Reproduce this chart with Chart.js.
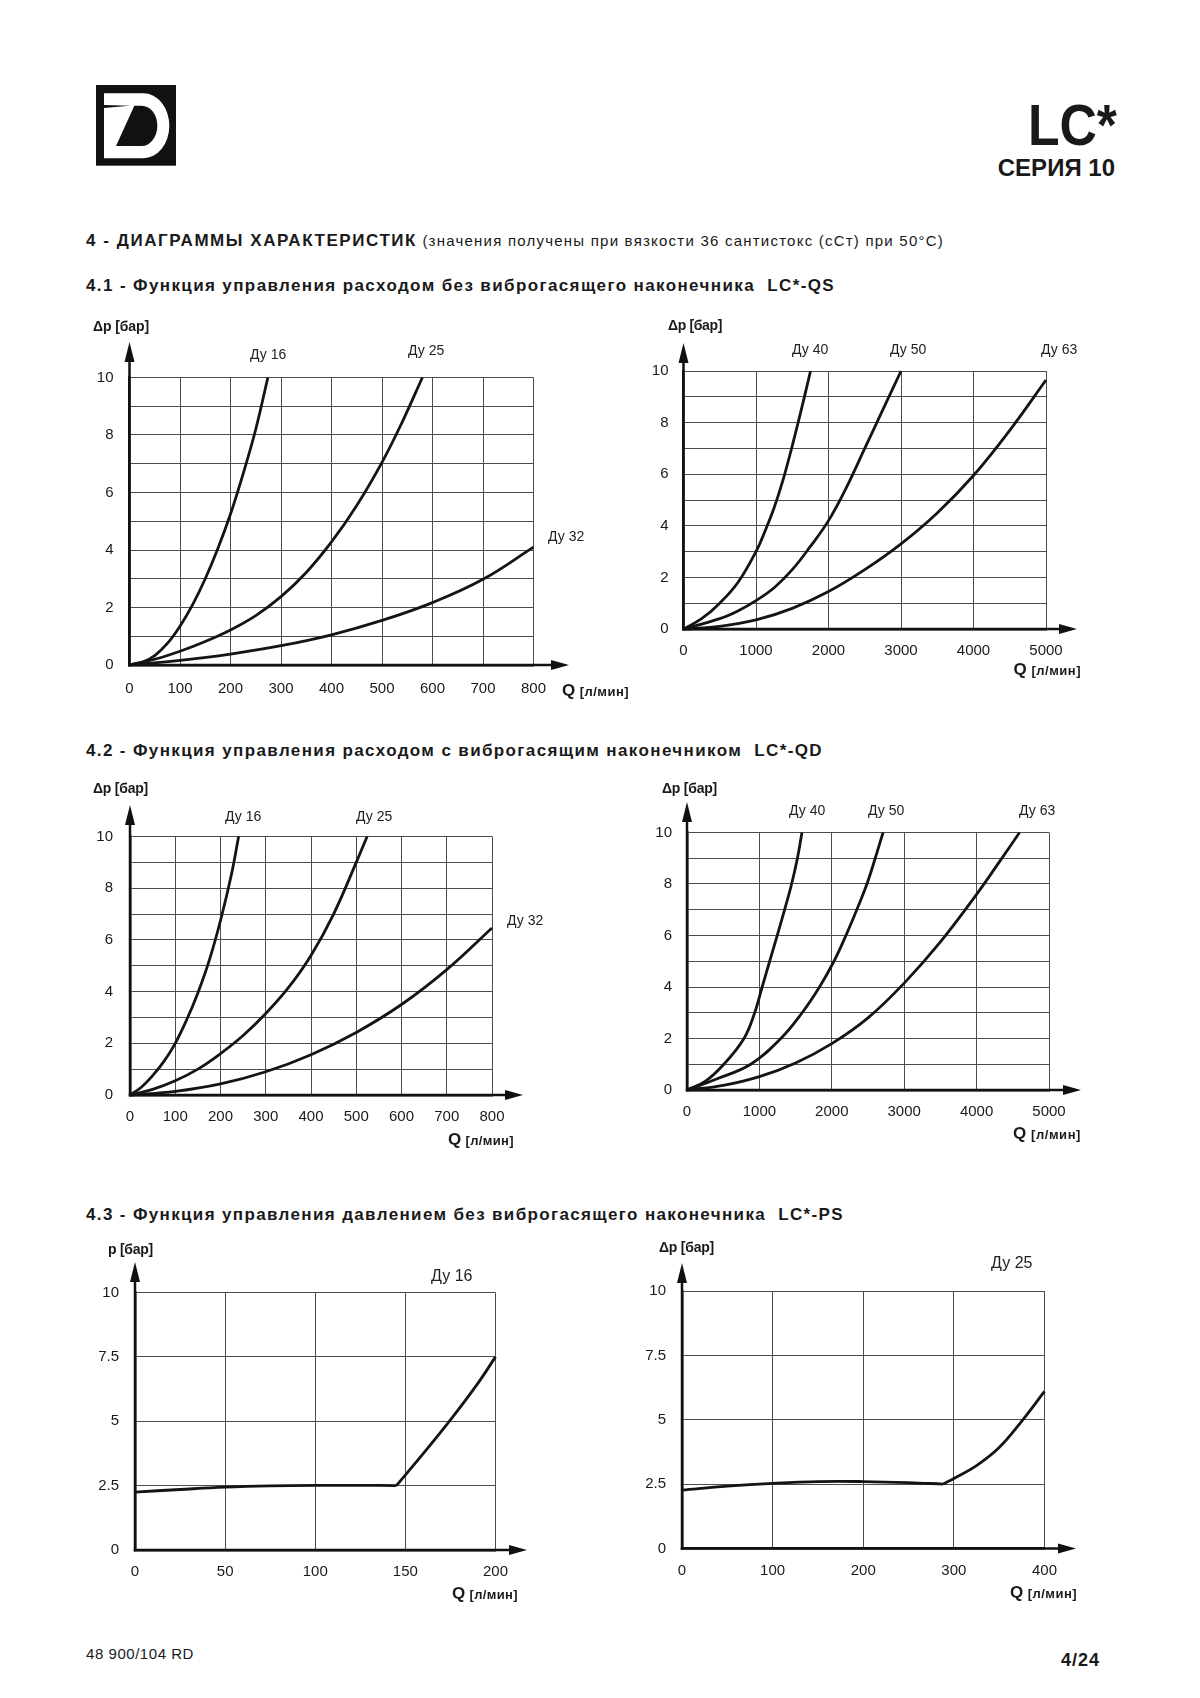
<!DOCTYPE html>
<html><head><meta charset="utf-8">
<script src="https://cdn.jsdelivr.net/npm/chart.js@4.4.1/dist/chart.umd.min.js"></script>
<style>
html,body{margin:0;padding:0;background:#fff;}
body{width:1200px;height:1698px;position:relative;overflow:hidden;font-family:'Liberation Sans',Arial,Helvetica,sans-serif;color:#1a1a1a;}
.t{position:absolute;white-space:nowrap;line-height:1;}
canvas{position:absolute;}
#logo{position:absolute;left:80px;top:75px;width:110px;height:100px;}
</style></head><body>
<svg id="logo" viewBox="0 0 330 300">
  <rect x="48" y="30" width="240" height="242" fill="#111"/>
  <path d="M72,55 H190 A78,97.5 0 0 1 190,250 H72 Z" fill="#fff"/>
  <path d="M163,92 H185 A47,60.5 0 0 1 185,213 H108 Z" fill="#111"/>
  <path d="M72,90 L150,92 L72,99 Z" fill="#111"/>
</svg>
<script>
// ---------- axis ticks ----------
const Q_800  = [0,100,200,300,400,500,600,700,800];
const Q_5000 = [0,1000,2000,3000,4000,5000];
const Q_200  = [0,50,100,150,200];
const Q_400  = [0,100,200,300,400];
const DP_GRID   = [0,1,2,3,4,5,6,7,8,9,10];
const DP_LABELS = [0,2,4,6,8,10];
const P_GRID    = [0,2.5,5,7.5,10];

// ---------- curve names ----------
const NAMES_SMALL = ['Ду 16','Ду 25','Ду 32'];
const NAMES_LARGE = ['Ду 40','Ду 50','Ду 63'];
const NAME_PS16 = ['Ду 16'];
const NAME_PS25 = ['Ду 25'];

// ---------- 4.1 LC*-QS  [Q л/мин, Δp бар] ----------
const QS_DN16 = [[0,0],[25,0.09],[50,0.33],[75,0.75],[100,1.35],[125,2.1],[150,3.0],[175,4.05],[200,5.25],[225,6.65],[250,8.2],[274,10]];
const QS_DN25 = [[0,0],[50,0.2],[100,0.48],[150,0.82],[200,1.22],[250,1.72],[300,2.38],[350,3.22],[400,4.28],[450,5.55],[500,7.05],[540,8.45],[580,10]];
const QS_DN32 = [[0,0],[100,0.16],[200,0.38],[300,0.67],[400,1.05],[500,1.55],[600,2.17],[700,2.98],[800,4.1]];
const QS_DN40 = [[0,0],[250,0.4],[500,1.0],[750,1.8],[1000,3.0],[1125,3.8],[1250,4.7],[1375,5.8],[1500,7.1],[1625,8.5],[1752,10]];
const QS_DN50 = [[0,0],[500,0.4],[750,0.7],[1000,1.1],[1250,1.6],[1500,2.3],[1750,3.2],[2000,4.2],[2250,5.5],[2500,7.0],[2750,8.5],[3000,10]];
const QS_DN63 = [[0,0],[500,0.1],[1000,0.35],[1500,0.8],[2000,1.45],[2500,2.3],[3000,3.3],[3500,4.5],[4000,5.95],[4500,7.7],[5000,9.65]];

// ---------- 4.2 LC*-QD ----------
const QD_DN16 = [[0,0],[25,0.3],[50,0.75],[75,1.3],[100,2.0],[125,2.9],[150,3.95],[175,5.2],[200,6.75],[225,8.6],[240,10]];
const QD_DN25 = [[0,0],[50,0.22],[100,0.55],[150,1.0],[200,1.6],[250,2.3],[300,3.15],[350,4.15],[400,5.4],[450,7.0],[500,9.0],[524,10]];
const QD_DN32 = [[0,0],[100,0.14],[200,0.43],[300,0.9],[400,1.56],[500,2.42],[600,3.5],[700,4.85],[800,6.46]];
const QD_DN40 = [[0,0],[250,0.33],[509,1],[787,2],[935,3],[1038,4],[1142,5],[1246,6],[1348,7],[1445,8],[1525,9],[1588,10]];
const QD_DN50 = [[0,0],[400,0.42],[880,1],[1296,2],[1590,3],[1830,4],[2030,5],[2195,6],[2345,7],[2485,8],[2600,9],[2708,10]];
const QD_DN63 = [[0,0],[500,0.18],[1000,0.52],[1500,1.05],[2000,1.8],[2500,2.8],[3000,4.15],[3500,5.75],[4000,7.6],[4300,8.8],[4593,10]];

// ---------- 4.3 LC*-PS  [Q л/мин, p бар] ----------
const PS_DN16 = [[0,2.25],[25,2.35],[50,2.44],[75,2.49],[100,2.51],[125,2.51],[145,2.5],[160,3.75],[175,5.05],[190,6.45],[200,7.5]];
const PS_DN16_KINK = 145;
const PS_DN25 = [[0,2.27],[50,2.42],[100,2.53],[150,2.6],[200,2.6],[250,2.56],[288,2.5],[300,2.72],[325,3.22],[350,3.92],[375,4.95],[400,6.1]];
const PS_DN25_KINK = 288;

// ---------- helpers ----------
const FONT = "'Liberation Sans', Arial, Helvetica, sans-serif";
Chart.defaults.font.family = FONT;

function fitWidth(el, target){
  el.style.letterSpacing = '0px';
  const w = el.getBoundingClientRect().width;
  const n = el.textContent.length;
  el.style.letterSpacing = ((target - w) / n) + 'px';
}
function addText(html, x, cy, size, bold, fitW, color){
  const d = document.createElement('div');
  d.className = 't';
  d.innerHTML = html;
  d.style.fontSize = size + 'px';
  d.style.fontWeight = bold ? 'bold' : 'normal';
  d.style.top = (cy - size * 0.49) + 'px';
  d.style.left = x + 'px';
  if (color) d.style.color = color;
  document.body.appendChild(d);
  if (fitW) fitWidth(d, fitW);
  return d;
}
function splitAt(arr, k){
  return [arr.filter(p => p[0] <= k), arr.filter(p => p[0] >= k)];
}

const arrowPlugin = {
  id: 'arrows',
  afterDraw(chart, args, o){
    const ctx = chart.ctx, a = chart.chartArea;
    ctx.save();
    ctx.strokeStyle = '#111'; ctx.fillStyle = '#111'; ctx.lineWidth = 2.5;
    const yTip = a.top - o.yExt, xTip = a.right + o.xExt;
    ctx.beginPath(); ctx.moveTo(a.left, a.bottom + 1.25); ctx.lineTo(a.left, yTip + 18); ctx.stroke();
    ctx.beginPath(); ctx.moveTo(a.left, yTip); ctx.lineTo(a.left - 5, yTip + 20); ctx.lineTo(a.left + 5, yTip + 20); ctx.closePath(); ctx.fill();
    ctx.beginPath(); ctx.moveTo(a.left - 1.25, a.bottom); ctx.lineTo(xTip - 16, a.bottom); ctx.stroke();
    ctx.beginPath(); ctx.moveTo(xTip, a.bottom); ctx.lineTo(xTip - 18, a.bottom - 5); ctx.lineTo(xTip - 18, a.bottom + 5); ctx.closePath(); ctx.fill();
    ctx.restore();
  }
};

function makeChart(c){
  const b = c.box;
  const cl = Math.floor(b.pl) - 72, ct = Math.floor(b.pt) - 50;
  const cw = Math.ceil(b.pr) + 55 - cl, ch = Math.ceil(b.pb) + 40 - ct;
  const cv = document.createElement('canvas');
  cv.width = cw; cv.height = ch;
  cv.style.left = cl + 'px'; cv.style.top = ct + 'px';
  cv.style.width = cw + 'px'; cv.style.height = ch + 'px';
  document.body.appendChild(cv);
  const datasets = c.series.map(s => ({
    data: s, borderColor: '#141414', borderWidth: 2.8, pointRadius: 0,
    fill: false, clip: false, tension: 0.4, borderJoinStyle: 'round'
  }));
  const tickFont = { family: FONT, size: 15 };
  new Chart(cv, {
    type: 'line',
    data: { datasets },
    plugins: [arrowPlugin],
    options: {
      responsive: false, animation: false, events: [],
      layout: { padding: { top: b.pt - ct, right: cl + cw - b.pr, left: 0, bottom: 0 } },
      plugins: { legend: { display: false }, tooltip: { enabled: false }, arrows: { yExt: c.ext[0], xExt: c.ext[1] } },
      scales: {
        x: {
          type: 'linear', min: c.xTicks[0], max: c.xTicks[c.xTicks.length - 1],
          afterBuildTicks: s => { s.ticks = c.xTicks.map(v => ({ value: v })); },
          afterFit: s => { s.height = ct + ch - b.pb; },
          grid: { color: '#4d4d4d', lineWidth: 1, drawTicks: false },
          border: { color: '#111', width: 2.5 },
          ticks: { padding: c.xPad, font: tickFont, color: '#1a1a1a', maxRotation: 0, autoSkip: false, callback: v => String(v) }
        },
        y: {
          type: 'linear', min: c.yGrid[0], max: c.yGrid[c.yGrid.length - 1],
          afterBuildTicks: s => { s.ticks = c.yGrid.map(v => ({ value: v })); },
          afterFit: s => { s.width = b.pl - cl; },
          grid: { color: '#4d4d4d', lineWidth: 1, drawTicks: false },
          border: { color: '#111', width: 2.5 },
          ticks: { padding: c.yPad, font: tickFont, color: '#1a1a1a', autoSkip: false, callback: v => (c.yLab.includes(v) ? String(v) : '') }
        }
      }
    }
  });
  c.names.forEach((n, i) => addText(n, c.namePos[i][0], c.namePos[i][1], c.nameSize, false, null, '#222'));
  addText(c.yTitle, c.yTitlePos[0], c.yTitlePos[1], 14, true, c.yTitlePos[2]);
  addText('<span style="font-size:17px">Q</span><span style="font-size:13px"> [л/мин]</span>', c.qPos[0], c.qPos[1], 17, true, c.qPos[2]);
}

// ---------- header text ----------
(function(){
  const lc = addText('LC*', 0, 124.5, 58, true);
  const w = lc.getBoundingClientRect().width;
  lc.style.left = (1117 - w) + 'px';
  lc.style.transformOrigin = 'right center';
  lc.style.transform = 'scaleX(' + (89 / w) + ')';
  const se = addText('СЕРИЯ 10', 0, 167.5, 24, true);
  se.style.left = (1115 - se.getBoundingClientRect().width) + 'px';

  addText('<span id="hb" style="font-weight:bold">4 - ДИАГРАММЫ ХАРАКТЕРИСТИК</span><span id="hn" style="font-weight:normal;font-size:15px"> (значения получены при вязкости 36 сантистокс (сСт) при 50°С)</span>', 86, 240, 17, false);
  fitWidth(document.getElementById('hb'), 331);
  fitWidth(document.getElementById('hn'), 527);

  addText('4.1 - Функция управления расходом без виброгасящего наконечника&nbsp; LC*-QS', 86, 285.5, 17, true, 749);
  addText('4.2 - Функция управления расходом с виброгасящим наконечником&nbsp; LC*-QD', 86, 750, 17, true, 737);
  addText('4.3 - Функция управления давлением без виброгасящего наконечника&nbsp; LC*-PS', 86, 1214, 17, true, 758);

  addText('48 900/104 RD', 86, 1653, 15, false, 108);
  const pg = addText('4/24', 0, 1660, 18, true);
  fitWidth(pg, 39);
  pg.style.left = (1100 - pg.getBoundingClientRect().width) + 'px';
})();

// ---------- charts ----------
const ps16 = splitAt(PS_DN16, PS_DN16_KINK);
const ps25 = splitAt(PS_DN25, PS_DN25_KINK);

[
  { box:{pl:129.5, pt:377.5, pr:533.5, pb:665}, ext:[35.5,35.5], xTicks:Q_800, yGrid:DP_GRID, yLab:DP_LABELS,
    series:[QS_DN16, QS_DN25, QS_DN32], names:NAMES_SMALL, namePos:[[250,354],[408,350],[548,536]], nameSize:14,
    yTitle:'Δp [бар]', yTitlePos:[93,326,56], qPos:[562,690,67], xPad:15, yPad:16 },
  { box:{pl:683.5, pt:371, pr:1046, pb:629}, ext:[28,31], xTicks:Q_5000, yGrid:DP_GRID, yLab:DP_LABELS,
    series:[QS_DN40, QS_DN50, QS_DN63], names:NAMES_LARGE, namePos:[[792,349],[890,349],[1041,349]], nameSize:14,
    yTitle:'Δp [бар]', yTitlePos:[668,325,54], qPos:[1013.5,669,67.5], xPad:13, yPad:15 },
  { box:{pl:130, pt:836.5, pr:492, pb:1095}, ext:[31.5,31], xTicks:Q_800, yGrid:DP_GRID, yLab:DP_LABELS,
    series:[QD_DN16, QD_DN25, QD_DN32], names:NAMES_SMALL, namePos:[[225,816],[356,816],[507,920]], nameSize:14,
    yTitle:'Δp [бар]', yTitlePos:[93,788,55], qPos:[448,1139,66], xPad:13, yPad:17 },
  { box:{pl:687, pt:832.5, pr:1049, pb:1090}, ext:[30.5,32], xTicks:Q_5000, yGrid:DP_GRID, yLab:DP_LABELS,
    series:[QD_DN40, QD_DN50, QD_DN63], names:NAMES_LARGE, namePos:[[789,810],[868,810],[1019,810]], nameSize:14,
    yTitle:'Δp [бар]', yTitlePos:[662,788,55], qPos:[1013,1133,68], xPad:13, yPad:15 },
  { box:{pl:135, pt:1292.5, pr:495.5, pb:1550}, ext:[30.5,31.5], xTicks:Q_200, yGrid:P_GRID, yLab:P_GRID,
    series:[ps16[0], ps16[1]], names:NAME_PS16, namePos:[[431,1276]], nameSize:16,
    yTitle:'p [бар]', yTitlePos:[108,1249,45], qPos:[452,1593,66], xPad:13, yPad:16 },
  { box:{pl:682, pt:1291, pr:1044.5, pb:1548.5}, ext:[28,31.5], xTicks:Q_400, yGrid:P_GRID, yLab:P_GRID,
    series:[ps25[0], ps25[1]], names:NAME_PS25, namePos:[[991,1263]], nameSize:16,
    yTitle:'Δp [бар]', yTitlePos:[659,1247,55], qPos:[1010,1592,67], xPad:13, yPad:16 }
].forEach(makeChart);
</script>
</body></html>
